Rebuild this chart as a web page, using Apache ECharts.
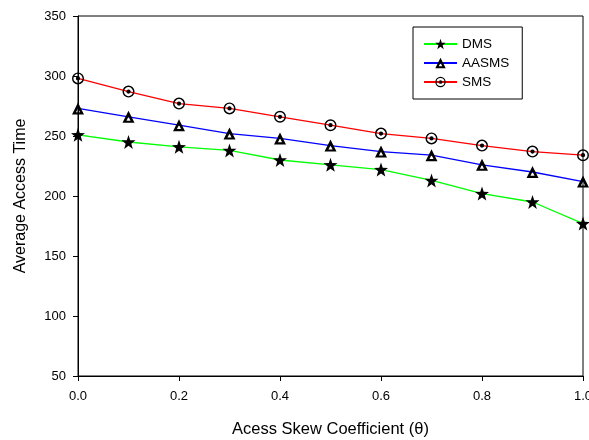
<!DOCTYPE html>
<html>
<head>
<meta charset="utf-8">
<script src="https://cdn.jsdelivr.net/npm/echarts@6/dist/echarts.min.js"></script>
<style>
html,body{margin:0;padding:0;background:#fff;}
#chart{width:589px;height:440px;}
</style>
</head>
<body>
<div id="chart"></div>
<script>
var xValues = [0.0, 0.1, 0.2, 0.3, 0.4, 0.5, 0.6, 0.7, 0.8, 0.9, 1.0];
var dms = [251, 245, 241, 238, 230, 226, 222, 213, 202, 195, 177];
var aasms = [273, 266, 259, 252, 248, 242, 237, 234, 226, 220, 212];
var sms = [298, 287, 277, 273, 266, 259, 252, 248, 242, 237, 234];
var seriesNames = ['DMS', 'AASMS', 'SMS'];
var xTitle = 'Acess Skew Coefficient (\u03B8)';
var yTitle = 'Average Access Time';

function pairs(vals) { return vals.map(function (v, i) { return [xValues[i], v]; }); }

var starPath = 'path://M100,0 L123.5,67.6 L195.1,69.1 L138,112.4 L158.8,180.9 L100,140 L41.2,180.9 L62,112.4 L4.9,69.1 L76.5,67.6 Z';
var triPath = 'path://M50,0 L100,90 L0,90 Z M50,44 L33,74 L67,74 Z';
var circPath = 'path://M50,0 A50,50 0 1,1 50,100 A50,50 0 1,1 50,0 Z M50,12 A38,38 0 1,0 50,88 A38,38 0 1,0 50,12 Z M50,32 A18,18 0 1,1 50,68 A18,18 0 1,1 50,32 Z';

var font = 'Liberation Sans, Arial, sans-serif';
var chart = echarts.init(document.getElementById('chart'), null, {renderer: 'canvas'});
function mk(name, vals, color, symbol, size) {
  return {
    name: name, type: 'line', data: pairs(vals), clip: false,
    symbol: symbol, symbolSize: size, showAllSymbol: true,
    lineStyle: {color: color, width: 1.3},
    itemStyle: {color: '#000', borderWidth: 0},
    emphasis: {disabled: true}, animation: false
  };
}
chart.setOption({
  animation: false,
  backgroundColor: '#fff',
  grid: {left: 78, right: 6, top: 16, bottom: 64, outerBoundsMode: 'none', containLabel: false,
    show: true, borderColor: '#000', borderWidth: 1, backgroundColor: 'transparent'},
  legend: {
    data: seriesNames, orient: 'vertical', left: 413, top: 27,
    itemWidth: 33, itemHeight: 13, itemGap: 5,
    padding: [10, 13, 10, 10],
    borderColor: '#000', borderWidth: 1, backgroundColor: '#fff',
    textStyle: {fontFamily: font, fontSize: 13.5, color: '#000', lineHeight: 13}
  },
  xAxis: {
    type: 'value', min: 0, max: 1, interval: 0.2,
    name: xTitle, nameLocation: 'middle', nameGap: 45,
    nameTextStyle: {fontFamily: font, fontSize: 16.5, color: '#000'},
    axisLine: {lineStyle: {color: '#000', width: 1}},
    axisTick: {show: true, inside: false, length: 5, lineStyle: {color: '#000'}},
    axisLabel: {fontFamily: font, fontSize: 13, color: '#000', margin: 14, formatter: function (v) { return v.toFixed(1); }},
    splitLine: {show: false}
  },
  yAxis: {
    type: 'value', min: 50, max: 350, interval: 50,
    name: yTitle, nameLocation: 'middle', nameGap: 49, nameRotate: 90,
    nameTextStyle: {fontFamily: font, fontSize: 16, color: '#000'},
    axisLine: {show: true, lineStyle: {color: '#000', width: 1}},
    axisTick: {show: true, inside: false, length: 5, lineStyle: {color: '#000'}},
    axisLabel: {fontFamily: font, fontSize: 13, color: '#000', margin: 12},
    splitLine: {show: false}
  },
  series: [
    mk(seriesNames[0], dms, '#00ff00', starPath, 14),
    mk(seriesNames[1], aasms, '#0000ff', triPath, 12),
    mk(seriesNames[2], sms, '#ff0000', circPath, 12)
  ]
});
</script>
</body>
</html>
